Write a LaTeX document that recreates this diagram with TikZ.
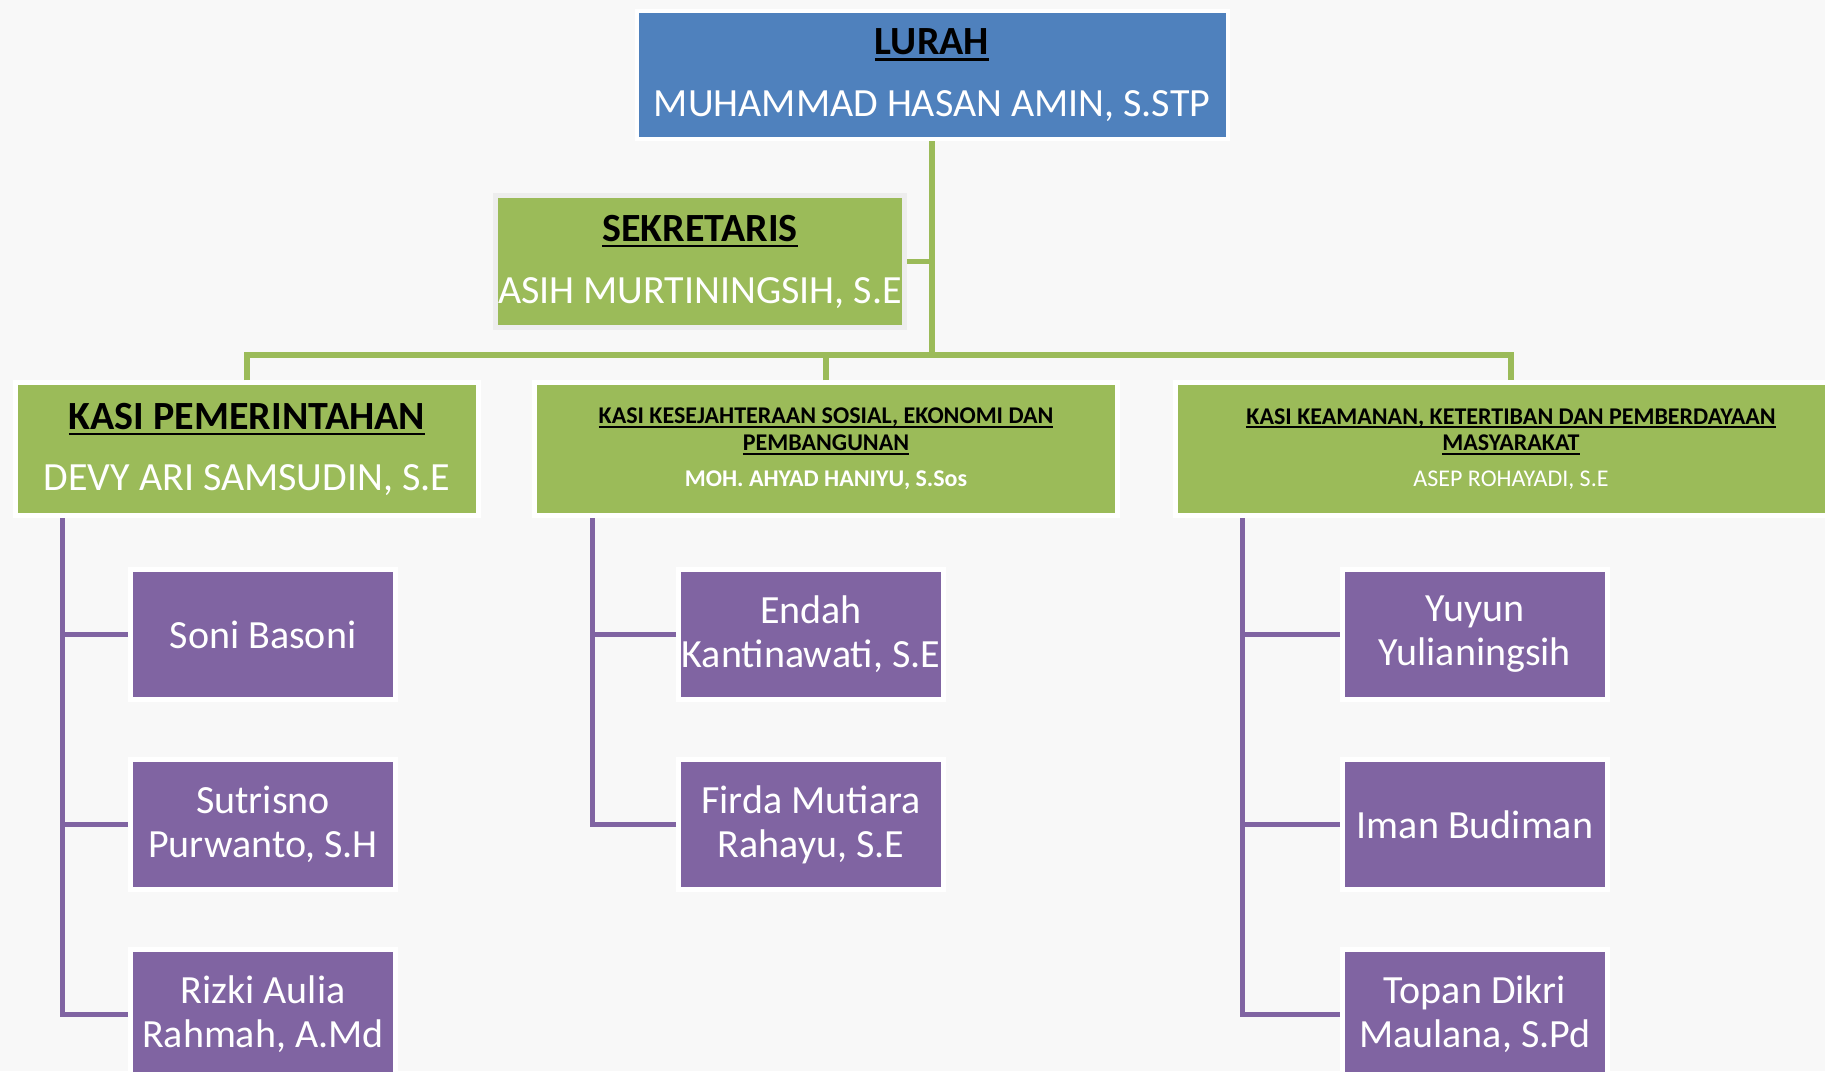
\documentclass[tikz,border=0pt]{standalone}
\usepackage{fontspec}
\setmainfont{Carlito}
\usetikzlibrary{positioning}
\definecolor{paper}{RGB}{248,248,248}
\definecolor{lurahblue}{RGB}{79,129,189}
\definecolor{kasigreen}{RGB}{155,187,89}
\definecolor{staffpurple}{RGB}{128,100,162}
\newsavebox\hdrbox
\newcommand{\hdr}[1]{\sbox\hdrbox{\bfseries #1}\rlap{\rule[-0.16em]{\wd\hdrbox}{0.06em}}\usebox\hdrbox}
\newcommand{\bigtxt}{\fontsize{20}{24}\selectfont}
\newcommand{\smalltxt}{\fontsize{12}{13.4}\selectfont}
\newcommand{\stafftxt}{\fontsize{20}{22}\selectfont}

\begin{document}
\begin{tikzpicture}[x=0.5pt,y=-0.5pt,node distance=27.5pt,
  every node/.style={align=center,inner sep=0pt,text=white},
  lead/.style={fill=lurahblue,draw=white,line width=2pt,minimum width=295.5pt,minimum height=64pt,font=\bigtxt},
  sec/.style={fill=kasigreen,draw=gray!14,line width=2.5pt,minimum width=204.5pt,minimum height=66pt,font=\bigtxt},
  kasi/.style={fill=kasigreen,draw=white,line width=2.4pt,minimum height=66.4pt},
  staff/.style={fill=staffpurple,draw=white,line width=2.5pt,minimum width=132.5pt,minimum height=65pt,font=\stafftxt},
  tree/.style={draw=kasigreen,line width=2.75pt},
  sub/.style={draw=staffpurple,line width=2.5pt}]
\fill[paper] (0,0) rectangle (1825,1071);
\useasboundingbox (0,0) rectangle (1825,1071);

\node[lead] (lurah) at (932,75) {{\color{black}\hdr{LURAH}}\\[7pt]MUHAMMAD HASAN AMIN, S.STP};
\node[sec] (sekr) at (700,261.5) {{\color{black}\hdr{SEKRETARIS}}\\[7pt]ASIH MURTININGSIH, S.E};

\node[kasi,minimum width=231.4pt,font=\bigtxt] (pem) at (247,449)
  {{\color{black}\hdr{KASI PEMERINTAHAN}}\\[6.5pt]DEVY ARI SAMSUDIN, S.E};
\node[kasi,minimum width=291.4pt,font=\smalltxt] (kesra) at (826,449)
  {{\color{black}\hdr{KASI KESEJAHTERAAN SOSIAL, EKONOMI DAN}}\\{\color{black}\hdr{PEMBANGUNAN}}\\[4.5pt]\textbf{MOH. AHYAD HANIYU, S.Sos}};
\node[kasi,minimum width=335.4pt,font=\smalltxt] (trantib) at (1511,449)
  {{\color{black}\hdr{KASI KEAMANAN, KETERTIBAN DAN PEMBERDAYAAN}}\\{\color{black}\hdr{MASYARAKAT}}\\[4.5pt]ASEP ROHAYADI, S.E};

\node[staff] (soni) at (263,634.5) {Soni Basoni};
\node[staff,below=of soni] (sutrisno) {Sutrisno\\Purwanto, S.H};
\node[staff,below=of sutrisno] (rizki) {Rizki Aulia\\Rahmah, A.Md};

\node[staff] (endah) at (811,634.5) {Endah\\Kantinawati, S.E};
\node[staff,below=of endah] (firda) {Firda Mutiara\\Rahayu, S.E};

\node[staff] (yuyun) at (1475,634.5) {Yuyun\\Yulianingsih};
\node[staff,below=of yuyun] (iman) {Iman Budiman};
\node[staff,below=of iman] (topan) {Topan Dikri\\Maulana, S.Pd};

\coordinate (bus) at (932,355);
\draw[tree] (lurah) -- (bus);
\draw[tree] (sekr.east) -- (sekr.east -| bus);
\draw[tree] (pem) |- (bus) -| (trantib);
\draw[tree] (kesra) -- (kesra |- bus);

\coordinate (pemrail) at (62,518);
\coordinate (kesrarail) at (592.5,518);
\coordinate (trantibrail) at (1242,518);
\foreach \s in {soni,sutrisno,rizki} \draw[sub] (pemrail) |- (\s.west);
\foreach \s in {endah,firda} \draw[sub] (kesrarail) |- (\s.west);
\foreach \s in {yuyun,iman,topan} \draw[sub] (trantibrail) |- (\s.west);
\end{tikzpicture}
\end{document}
